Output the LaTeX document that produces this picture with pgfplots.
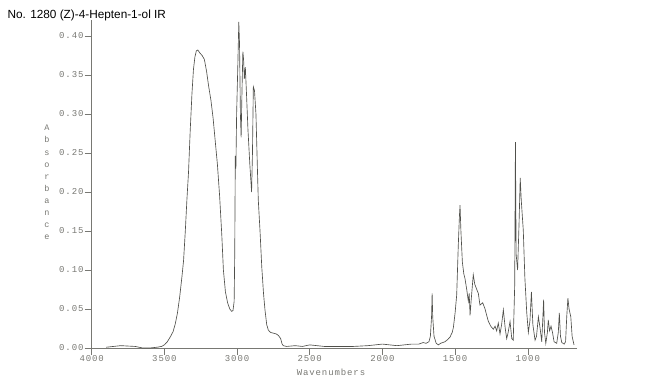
\documentclass[border=0pt]{standalone}
\usepackage{fontspec}
\setmainfont{Liberation Sans}
\newfontfamily\tickfont[LetterSpace=10]{Liberation Mono}
\usepackage{pgfplots}
\pgfplotsset{compat=1.18}
\definecolor{spec}{RGB}{80,80,75}
\definecolor{lab}{RGB}{120,120,115}
\begin{document}
\begin{tikzpicture}
\path[use as bounding box] (0pt,0pt) rectangle (650pt,383pt);
\begin{axis}[
  at={(91.7pt,35pt)}, anchor=south west,
  scale only axis, width=485.5pt, height=327.6pt,
  x dir=reverse, xmin=660, xmax=4000, ymin=0, ymax=0.42,
  axis x line*=bottom, axis y line*=left,
  axis line style={lab, line width=0.5pt},
  tick align=outside, major tick length=7pt,
  tick style={lab, line width=0.5pt},
  xtick={4000,3500,3000,2500,2000,1500,1000},
  ytick={0,0.05,0.10,0.15,0.20,0.25,0.30,0.35,0.40},
  x tick label style={/pgf/number format/1000 sep={}, yshift=1pt},
  y tick label style={/pgf/number format/.cd, fixed, fixed zerofill, precision=2},
  /pgf/number format/assume math mode=true,
  ticklabel style={font=\tickfont\fontsize{9}{9}\selectfont, text=lab, inner sep=1pt},
  clip=false,
]
\addplot[spec, line width=0.65pt] coordinates {
(3900,0.001) (3850,0.002) (3800,0.003) (3700,0.002) (3650,0.0) (3600,0.0)
(3550,0.001) (3520,0.002) (3500,0.004) (3480,0.008) (3460,0.014) (3440,0.021)
(3425,0.031) (3410,0.045) (3395,0.065) (3380,0.090) (3368,0.112) (3356,0.150)
(3345,0.190) (3334,0.225) (3322,0.280) (3310,0.327) (3300,0.357) (3290,0.373)
(3280,0.381) (3270,0.382) (3255,0.378) (3240,0.375) (3225,0.370) (3210,0.355)
(3195,0.335) (3180,0.318) (3165,0.295) (3150,0.265) (3135,0.235) (3120,0.195)
(3105,0.145) (3094,0.100) (3080,0.072) (3065,0.058) (3050,0.050) (3037,0.047)
(3028,0.048) (3020,0.060) (3016,0.120) (3012,0.246) (3008,0.230) (3003,0.300)
(2995,0.360) (2988,0.418) (2983,0.390) (2977,0.300) (2972,0.270) (2966,0.330)
(2960,0.380) (2955,0.370) (2950,0.345) (2943,0.360) (2936,0.330) (2925,0.280)
(2912,0.235) (2900,0.200) (2894,0.250) (2888,0.335) (2880,0.330) (2870,0.300)
(2860,0.230) (2854,0.190) (2842,0.150) (2830,0.104) (2818,0.070) (2808,0.049)
(2796,0.030) (2785,0.023) (2770,0.020) (2750,0.019) (2730,0.018) (2715,0.016)
(2700,0.012) (2690,0.005) (2682,0.003) (2660,0.002) (2600,0.003) (2550,0.002)
(2500,0.004) (2450,0.003) (2400,0.002) (2300,0.002) (2200,0.002) (2100,0.003)
(2050,0.004) (2000,0.005) (1950,0.004) (1900,0.003) (1850,0.004) (1800,0.005)
(1750,0.005) (1720,0.007) (1700,0.006) (1680,0.008) (1670,0.015) (1662,0.040)
(1658,0.070) (1654,0.040) (1645,0.015) (1630,0.006) (1615,0.004) (1600,0.006)
(1570,0.008) (1550,0.011) (1535,0.014) (1520,0.020) (1512,0.026) (1500,0.045)
(1489,0.068) (1478,0.132) (1470,0.170) (1466,0.183) (1460,0.150) (1450,0.110)
(1440,0.095) (1432,0.089) (1420,0.075) (1409,0.060) (1403,0.070) (1397,0.042)
(1390,0.060) (1375,0.094) (1365,0.082) (1351,0.075) (1340,0.070) (1329,0.055)
(1310,0.058) (1294,0.050) (1280,0.040) (1271,0.034) (1255,0.028) (1237,0.024)
(1225,0.028) (1214,0.022) (1203,0.032) (1191,0.018) (1180,0.030) (1168,0.049)
(1155,0.025) (1145,0.012) (1135,0.020) (1122,0.034) (1110,0.012) (1100,0.010)
(1090,0.080) (1085,0.264) (1080,0.120) (1070,0.100) (1060,0.160) (1052,0.218)
(1045,0.190) (1031,0.151) (1020,0.090) (1007,0.045) (996,0.020) (985,0.035)
(975,0.072) (965,0.030) (950,0.010) (940,0.015) (927,0.040) (915,0.025)
(904,0.008) (896,0.040) (891,0.062) (885,0.020) (876,0.006) (865,0.020)
(859,0.036) (850,0.022) (840,0.028) (830,0.020) (819,0.008) (801,0.006)
(790,0.020) (783,0.045) (775,0.015) (766,0.007) (750,0.005) (740,0.008)
(732,0.040) (724,0.064) (716,0.050) (704,0.040) (695,0.015) (682,0.004)
};
\end{axis}
\node[anchor=west, font=\fontsize{11.8}{11.8}\selectfont] at (4pt,368pt) {No. 1280 (Z)-4-Hepten-1-ol IR};
\node[font=\tickfont\fontsize{9}{9}\selectfont, text=lab] at (331pt,11pt) {Wavenumbers};
\node[align=center, font=\tickfont\fontsize{8.5}{12.1}\selectfont, text=lab] at (47pt,200.5pt)
  {A\\b\\s\\o\\r\\b\\a\\n\\c\\e};
\end{tikzpicture}
\end{document}
